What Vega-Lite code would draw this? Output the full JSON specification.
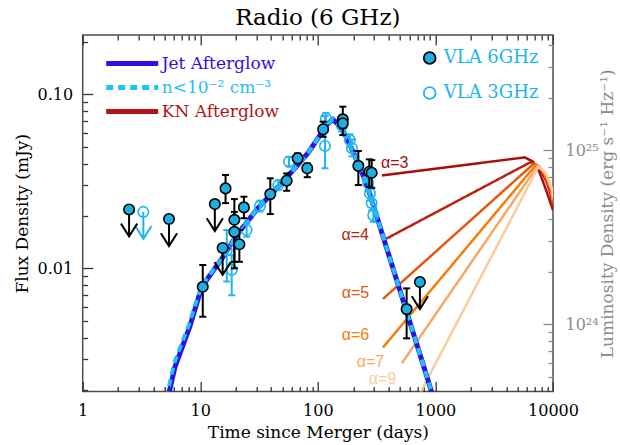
{
  "$schema": "https://vega.github.io/schema/vega-lite/v6.json",
  "width": 470.3,
  "height": 356.5,
  "autosize": "none",
  "padding": {"left": 82.7, "top": 35, "right": 67, "bottom": 53.5},
  "background": "white",
  "title": {"text": "Radio (6 GHz)", "font": "DejaVu Serif", "fontSize": 23, "fontWeight": "normal", "color": "black", "anchor": "middle", "frame": "group", "offset": 2},
  "config": {
    "font": "DejaVu Serif",
    "view": {"stroke": "#4d4d4d", "strokeWidth": 1.5},
    "axis": {"grid": false, "domain": false, "ticks": false, "labelFont": "DejaVu Serif", "labelFontSize": 16, "labelColor": "black", "titleFont": "DejaVu Serif", "titleFontSize": 17, "titleFontWeight": "normal", "titleColor": "black", "gridColor": "#333333", "gridWidth": 1.3, "gridOpacity": 1, "labelFlush": false, "labelOverlap": false, "labelBound": false}
  },
  "datasets": {
    "models": [
      {"model": "Jet Afterglow", "t": 5.3, "F": 0.0018},
      {"model": "Jet Afterglow", "t": 6.1, "F": 0.00272},
      {"model": "Jet Afterglow", "t": 8.13, "F": 0.00461},
      {"model": "Jet Afterglow", "t": 10.3, "F": 0.00784},
      {"model": "Jet Afterglow", "t": 15.3, "F": 0.0114},
      {"model": "Jet Afterglow", "t": 20.4, "F": 0.0155},
      {"model": "Jet Afterglow", "t": 30.8, "F": 0.0221},
      {"model": "Jet Afterglow", "t": 41.3, "F": 0.0272},
      {"model": "Jet Afterglow", "t": 61.8, "F": 0.0367},
      {"model": "Jet Afterglow", "t": 82.4, "F": 0.046},
      {"model": "Jet Afterglow", "t": 104, "F": 0.058},
      {"model": "Jet Afterglow", "t": 117, "F": 0.066},
      {"model": "Jet Afterglow", "t": 134, "F": 0.0718},
      {"model": "Jet Afterglow", "t": 157, "F": 0.0649},
      {"model": "Jet Afterglow", "t": 180, "F": 0.0546},
      {"model": "Jet Afterglow", "t": 207, "F": 0.0441},
      {"model": "Jet Afterglow", "t": 237, "F": 0.0357},
      {"model": "Jet Afterglow", "t": 267, "F": 0.0289},
      {"model": "Jet Afterglow", "t": 337, "F": 0.0174},
      {"model": "Jet Afterglow", "t": 453, "F": 0.0092},
      {"model": "Jet Afterglow", "t": 607, "F": 0.00489},
      {"model": "Jet Afterglow", "t": 815, "F": 0.00259},
      {"model": "Jet Afterglow", "t": 933, "F": 0.00192},
      {"model": "Jet Afterglow", "t": 975, "F": 0.00172},
      {"model": "n<10⁻² cm⁻³", "t": 5.15, "F": 0.0018},
      {"model": "n<10⁻² cm⁻³", "t": 6.0, "F": 0.00285},
      {"model": "n<10⁻² cm⁻³", "t": 8.0, "F": 0.00475},
      {"model": "n<10⁻² cm⁻³", "t": 10.2, "F": 0.0079},
      {"model": "n<10⁻² cm⁻³", "t": 15.3, "F": 0.0114},
      {"model": "n<10⁻² cm⁻³", "t": 20.4, "F": 0.0155},
      {"model": "n<10⁻² cm⁻³", "t": 30.8, "F": 0.0221},
      {"model": "n<10⁻² cm⁻³", "t": 41.3, "F": 0.0272},
      {"model": "n<10⁻² cm⁻³", "t": 61.8, "F": 0.0367},
      {"model": "n<10⁻² cm⁻³", "t": 82.4, "F": 0.046},
      {"model": "n<10⁻² cm⁻³", "t": 104, "F": 0.058},
      {"model": "n<10⁻² cm⁻³", "t": 117, "F": 0.066},
      {"model": "n<10⁻² cm⁻³", "t": 134, "F": 0.0718},
      {"model": "n<10⁻² cm⁻³", "t": 157, "F": 0.0649},
      {"model": "n<10⁻² cm⁻³", "t": 180, "F": 0.0546},
      {"model": "n<10⁻² cm⁻³", "t": 207, "F": 0.0441},
      {"model": "n<10⁻² cm⁻³", "t": 237, "F": 0.0357},
      {"model": "n<10⁻² cm⁻³", "t": 267, "F": 0.0289},
      {"model": "n<10⁻² cm⁻³", "t": 337, "F": 0.0174},
      {"model": "n<10⁻² cm⁻³", "t": 453, "F": 0.0092},
      {"model": "n<10⁻² cm⁻³", "t": 607, "F": 0.00489},
      {"model": "n<10⁻² cm⁻³", "t": 815, "F": 0.00259},
      {"model": "n<10⁻² cm⁻³", "t": 933, "F": 0.00192},
      {"model": "n<10⁻² cm⁻³", "t": 975, "F": 0.00172},
      {"model": "α=3", "t": 351, "F": 0.0342},
      {"model": "α=3", "t": 5740, "F": 0.0434},
      {"model": "α=3", "t": 6790, "F": 0.041},
      {"model": "α=3", "t": 7700, "F": 0.0355},
      {"model": "α=3", "t": 8600, "F": 0.029},
      {"model": "α=3", "t": 9300, "F": 0.025},
      {"model": "α=3", "t": 10000, "F": 0.0216},
      {"model": "α=4", "t": 382, "F": 0.0148},
      {"model": "α=4", "t": 6460, "F": 0.0408},
      {"model": "α=4", "t": 7200, "F": 0.0393},
      {"model": "α=4", "t": 8000, "F": 0.036},
      {"model": "α=4", "t": 8900, "F": 0.031},
      {"model": "α=4", "t": 9500, "F": 0.027},
      {"model": "α=4", "t": 10000, "F": 0.0228},
      {"model": "α=5", "t": 358, "F": 0.00667},
      {"model": "α=5", "t": 6880, "F": 0.04},
      {"model": "α=5", "t": 7500, "F": 0.0388},
      {"model": "α=5", "t": 8300, "F": 0.0355},
      {"model": "α=5", "t": 9100, "F": 0.031},
      {"model": "α=5", "t": 9600, "F": 0.028},
      {"model": "α=5", "t": 10000, "F": 0.0236},
      {"model": "α=6", "t": 358, "F": 0.00351},
      {"model": "α=6", "t": 7130, "F": 0.0392},
      {"model": "α=6", "t": 7700, "F": 0.0382},
      {"model": "α=6", "t": 8500, "F": 0.035},
      {"model": "α=6", "t": 9200, "F": 0.031},
      {"model": "α=6", "t": 9700, "F": 0.028},
      {"model": "α=6", "t": 10000, "F": 0.0244},
      {"model": "α=7", "t": 519, "F": 0.00285},
      {"model": "α=7", "t": 7370, "F": 0.0386},
      {"model": "α=7", "t": 7900, "F": 0.0377},
      {"model": "α=7", "t": 8700, "F": 0.0348},
      {"model": "α=7", "t": 9300, "F": 0.031},
      {"model": "α=7", "t": 9800, "F": 0.028},
      {"model": "α=7", "t": 10000, "F": 0.025},
      {"model": "α=9", "t": 735, "F": 0.0019},
      {"model": "α=9", "t": 7520, "F": 0.0383},
      {"model": "α=9", "t": 8000, "F": 0.0373},
      {"model": "α=9", "t": 8800, "F": 0.0345},
      {"model": "α=9", "t": 9400, "F": 0.031},
      {"model": "α=9", "t": 9850, "F": 0.0285},
      {"model": "α=9", "t": 10000, "F": 0.0256}
    ],
    "labels": [
      {"model": "α=3", "t": 451, "F": 0.0401},
      {"model": "α=4", "t": 207.6, "F": 0.0155},
      {"model": "α=5", "t": 209, "F": 0.00725},
      {"model": "α=6", "t": 209, "F": 0.00414},
      {"model": "α=7", "t": 280, "F": 0.00289},
      {"model": "α=9", "t": 354, "F": 0.0023}
    ],
    "obs": [
      {"band": "VLA 3GHz", "t": 3.28, "F": 0.0211, "ul": 1},
      {"band": "VLA 3GHz", "t": 16.8, "F": 0.0127, "lo": 0.0084, "hi": 0.0166},
      {"band": "VLA 3GHz", "t": 18.5, "F": 0.0098, "lo": 0.007, "hi": 0.0119},
      {"band": "VLA 3GHz", "t": 24.8, "F": 0.0166, "lo": 0.0152, "hi": 0.0181},
      {"band": "VLA 3GHz", "t": 32.2, "F": 0.0228, "lo": 0.0212, "hi": 0.0245},
      {"band": "VLA 3GHz", "t": 46.1, "F": 0.0301, "lo": 0.0283, "hi": 0.032},
      {"band": "VLA 3GHz", "t": 56.8, "F": 0.041, "lo": 0.0385, "hi": 0.0437},
      {"band": "VLA 3GHz", "t": 115, "F": 0.0505, "lo": 0.0376, "hi": 0.075},
      {"band": "VLA 3GHz", "t": 117, "F": 0.0727, "lo": 0.068, "hi": 0.078},
      {"band": "VLA 3GHz", "t": 160, "F": 0.066, "lo": 0.061, "hi": 0.071},
      {"band": "VLA 3GHz", "t": 187, "F": 0.0546, "lo": 0.05, "hi": 0.059},
      {"band": "VLA 3GHz", "t": 195, "F": 0.049, "lo": 0.044, "hi": 0.055},
      {"band": "VLA 3GHz", "t": 268, "F": 0.0308, "lo": 0.028, "hi": 0.034},
      {"band": "VLA 3GHz", "t": 277, "F": 0.027, "lo": 0.0245, "hi": 0.0295},
      {"band": "VLA 3GHz", "t": 287, "F": 0.0237, "lo": 0.0215, "hi": 0.026},
      {"band": "VLA 3GHz", "t": 296, "F": 0.0202, "lo": 0.0185, "hi": 0.022},
      {"band": "VLA 6GHz", "t": 2.48, "F": 0.0218, "ul": 1},
      {"band": "VLA 6GHz", "t": 5.42, "F": 0.0192, "ul": 1},
      {"band": "VLA 6GHz", "t": 13.3, "F": 0.0234, "ul": 1},
      {"band": "VLA 6GHz", "t": 15.5, "F": 0.0131, "ul": 1},
      {"band": "VLA 6GHz", "t": 738, "F": 0.00834, "ul": 1},
      {"band": "VLA 6GHz", "t": 10.5, "F": 0.00783, "lo": 0.00527, "hi": 0.01045},
      {"band": "VLA 6GHz", "t": 16.4, "F": 0.0288, "lo": 0.0237, "hi": 0.0344},
      {"band": "VLA 6GHz", "t": 19.5, "F": 0.019, "lo": 0.0109, "hi": 0.025},
      {"band": "VLA 6GHz", "t": 19.5, "F": 0.0162, "lo": 0.01, "hi": 0.0211},
      {"band": "VLA 6GHz", "t": 21.5, "F": 0.01375, "lo": 0.0109, "hi": 0.0166},
      {"band": "VLA 6GHz", "t": 23.5, "F": 0.0224, "lo": 0.0194, "hi": 0.0258},
      {"band": "VLA 6GHz", "t": 39.4, "F": 0.0267, "lo": 0.0205, "hi": 0.0329},
      {"band": "VLA 6GHz", "t": 54.3, "F": 0.0319, "lo": 0.0279, "hi": 0.0351},
      {"band": "VLA 6GHz", "t": 67.3, "F": 0.0429, "lo": 0.0401, "hi": 0.0458},
      {"band": "VLA 6GHz", "t": 81.3, "F": 0.0376, "lo": 0.0334, "hi": 0.0401},
      {"band": "VLA 6GHz", "t": 111, "F": 0.063, "lo": 0.057, "hi": 0.0696},
      {"band": "VLA 6GHz", "t": 163, "F": 0.0718, "lo": 0.064, "hi": 0.0849},
      {"band": "VLA 6GHz", "t": 163, "F": 0.0681, "lo": 0.0583, "hi": 0.076},
      {"band": "VLA 6GHz", "t": 221, "F": 0.0388, "lo": 0.0301, "hi": 0.0472},
      {"band": "VLA 6GHz", "t": 274, "F": 0.0359, "lo": 0.0294, "hi": 0.0423},
      {"band": "VLA 6GHz", "t": 287, "F": 0.0354, "lo": 0.029, "hi": 0.0419},
      {"band": "VLA 6GHz", "t": 569, "F": 0.00583, "lo": 0.00396, "hi": 0.00767}
    ],
    "lum": [
      {"t": 1, "L": 4.1e23},
      {"t": 10000, "L": 4.586e25}
    ]
  },
  "layer": [
    {
      "encoding": {
        "x": {"field": "t", "type": "quantitative", "scale": {"type": "log", "domain": [1, 10000], "nice": false},
          "axis": {"orient": "bottom", "values": [1,2,3,4,5,6,7,8,9,10,20,30,40,50,60,70,80,90,100,200,300,400,500,600,700,800,900,1000,2000,3000,4000,5000,6000,7000,8000,9000,10000],
            "labelExpr": "datum.value == 1 ? '1' : datum.value == 10 ? '10' : datum.value == 100 ? '100' : datum.value == 1000 ? '1000' : datum.value == 10000 ? '10000' : ''",
            "grid": true,
            "gridDash": {"condition": {"test": "datum.value == 1 || datum.value == 10 || datum.value == 100 || datum.value == 1000 || datum.value == 10000", "value": [10, 336.5, 10]}, "value": [5, 346.5, 5]},
            "labelPadding": 11, "title": "Time since Merger (days)", "titlePadding": 6}},
        "y": {"field": "F", "type": "quantitative", "scale": {"type": "log", "domain": [0.00196, 0.2192], "nice": false},
          "axis": {"orient": "left", "values": [0.002,0.003,0.004,0.005,0.006,0.007,0.008,0.009,0.01,0.02,0.03,0.04,0.05,0.06,0.07,0.08,0.09,0.1,0.2],
            "labelExpr": "datum.value == 0.1 ? '0.10' : datum.value == 0.01 ? '0.01' : ''",
            "grid": true,
            "gridDash": {"condition": {"test": "datum.value == 0.01 || datum.value == 0.1", "value": [10, 470]}, "value": [5, 470]},
            "labelPadding": 10, "title": "Flux Density (mJy)", "titlePadding": 6}}
      },
      "layer": [
        {
          "data": {"name": "models"},
          "transform": [{"filter": "indexof(datum.model, 'α') === 0"}],
          "mark": {"type": "line", "strokeWidth": 2.5, "clip": true},
          "encoding": {
            "color": {"field": "model", "type": "nominal",
              "scale": {"domain": ["Jet Afterglow", "n<10⁻² cm⁻³", "KN Afterglow", "α=3", "α=4", "α=5", "α=6", "α=7", "α=9"],
                "range": ["#2a12e6", "#1ec3f2", "#b01515", "#a80d0d", "#bb200c", "#e45812", "#f47d0c", "#f8a862", "#fccb9c"]},
              "legend": {"values": ["Jet Afterglow", "n<10⁻² cm⁻³", "KN Afterglow"], "orient": "top-left", "offset": 20, "title": null, "padding": 0,
                "symbolType": "M-1,0L9.4,0", "symbolSize": 100, "symbolStrokeWidth": 5, "labelFont": "DejaVu Serif", "labelFontSize": 17,
                "labelOffset": 42, "rowPadding": 3,
                "encode": {"labels": {"update": {"fill": {"signal": "datum.value === 'Jet Afterglow' ? '#2a12e6' : (datum.value === 'KN Afterglow' ? '#b01515' : '#1ec3f2')"}}}}}},
            "strokeDash": {"field": "model", "type": "nominal",
              "scale": {"domain": ["Jet Afterglow", "n<10⁻² cm⁻³", "KN Afterglow", "α=3", "α=4", "α=5", "α=6", "α=7", "α=9"],
                "range": [[1, 0], [7, 5], [1, 0], [1, 0], [1, 0], [1, 0], [1, 0], [1, 0], [1, 0]]}}
          }
        },
        {
          "data": {"name": "models"},
          "transform": [{"filter": "datum.model === 'Jet Afterglow'"}],
          "mark": {"type": "line", "strokeWidth": 5, "clip": true},
          "encoding": {
            "color": {"field": "model", "type": "nominal"},
            "strokeDash": {"field": "model", "type": "nominal"}
          }
        },
        {
          "data": {"name": "models"},
          "transform": [{"filter": "indexof(datum.model, 'n<') === 0"}],
          "mark": {"type": "line", "strokeWidth": 4, "clip": true, "strokeCap": "butt"},
          "encoding": {
            "color": {"field": "model", "type": "nominal"},
            "strokeDash": {"field": "model", "type": "nominal"}
          }
        },
        {
          "data": {"name": "labels"},
          "mark": {"type": "text", "font": "Liberation Sans", "fontSize": 16, "align": "center", "baseline": "middle"},
          "encoding": {
            "text": {"field": "model", "type": "nominal"},
            "color": {"field": "model", "type": "nominal"}
          }
        },
        {
          "data": {"name": "obs"},
          "transform": [{"filter": "datum.band === 'VLA 3GHz' && isValid(datum.lo)"}],
          "mark": {"type": "rule", "strokeWidth": 2},
          "encoding": {
            "y": {"field": "lo", "type": "quantitative", "scale": {"type": "log", "domain": [0.00196, 0.2192], "nice": false}},
            "y2": {"field": "hi"},
            "stroke": {"field": "band", "type": "nominal", "scale": {"domain": ["VLA 6GHz", "VLA 3GHz"], "range": ["#000000", "#1fb6ee"]}}
          }
        },
        {
          "data": {"name": "obs"},
          "transform": [{"filter": "datum.band === 'VLA 3GHz' && isValid(datum.lo)"}],
          "mark": {"type": "point", "shape": "M-1,0L1,0", "size": 49, "strokeWidth": 2, "opacity": 1, "filled": false},
          "encoding": {
            "y": {"field": "hi", "type": "quantitative", "scale": {"type": "log", "domain": [0.00196, 0.2192], "nice": false}},
            "stroke": {"field": "band", "type": "nominal"}
          }
        },
        {
          "data": {"name": "obs"},
          "transform": [{"filter": "datum.band === 'VLA 3GHz' && isValid(datum.lo)"}],
          "mark": {"type": "point", "shape": "M-1,0L1,0", "size": 49, "strokeWidth": 2, "opacity": 1, "filled": false},
          "encoding": {
            "y": {"field": "lo", "type": "quantitative", "scale": {"type": "log", "domain": [0.00196, 0.2192], "nice": false}},
            "stroke": {"field": "band", "type": "nominal"}
          }
        },
        {
          "data": {"name": "obs"},
          "transform": [{"filter": "datum.band === 'VLA 3GHz' && datum.ul === 1"}],
          "mark": {"type": "point", "shape": "M0,0L0,2M-0.6,1.05L0,2L0.6,1.05", "size": 729, "strokeWidth": 2, "opacity": 1, "filled": false},
          "encoding": {"stroke": {"field": "band", "type": "nominal"}}
        },
        {
          "data": {"name": "obs"},
          "transform": [{"filter": "datum.band === 'VLA 3GHz'"}],
          "mark": {"type": "point", "shape": "circle", "size": 110, "strokeWidth": 1.6, "opacity": 1, "filled": true},
          "encoding": {
            "fill": {"field": "band", "type": "nominal", "scale": {"domain": ["VLA 6GHz", "VLA 3GHz"], "range": ["#1eaee2", "transparent"]},
              "legend": {"orient": "top-right", "offset": 14, "title": null, "padding": 0, "symbolType": "circle", "symbolSize": 140, "symbolStrokeWidth": 1.8,
                "labelFont": "DejaVu Serif", "labelFontSize": 18, "labelColor": "#1eb4ec", "labelOffset": 5, "rowPadding": 15}},
            "stroke": {"field": "band", "type": "nominal"}
          }
        },
        {
          "data": {"name": "obs"},
          "transform": [{"filter": "datum.band === 'VLA 6GHz' && isValid(datum.lo)"}],
          "mark": {"type": "rule", "strokeWidth": 2},
          "encoding": {
            "y": {"field": "lo", "type": "quantitative", "scale": {"type": "log", "domain": [0.00196, 0.2192], "nice": false}},
            "y2": {"field": "hi"},
            "stroke": {"field": "band", "type": "nominal"}
          }
        },
        {
          "data": {"name": "obs"},
          "transform": [{"filter": "datum.band === 'VLA 6GHz' && isValid(datum.lo)"}],
          "mark": {"type": "point", "shape": "M-1,0L1,0", "size": 49, "strokeWidth": 2, "opacity": 1, "filled": false},
          "encoding": {
            "y": {"field": "hi", "type": "quantitative", "scale": {"type": "log", "domain": [0.00196, 0.2192], "nice": false}},
            "stroke": {"field": "band", "type": "nominal"}
          }
        },
        {
          "data": {"name": "obs"},
          "transform": [{"filter": "datum.band === 'VLA 6GHz' && isValid(datum.lo)"}],
          "mark": {"type": "point", "shape": "M-1,0L1,0", "size": 49, "strokeWidth": 2, "opacity": 1, "filled": false},
          "encoding": {
            "y": {"field": "lo", "type": "quantitative", "scale": {"type": "log", "domain": [0.00196, 0.2192], "nice": false}},
            "stroke": {"field": "band", "type": "nominal"}
          }
        },
        {
          "data": {"name": "obs"},
          "transform": [{"filter": "datum.band === 'VLA 6GHz' && datum.ul === 1"}],
          "mark": {"type": "point", "shape": "M0,0L0,2M-0.6,1.05L0,2L0.6,1.05", "size": 729, "strokeWidth": 2, "opacity": 1, "filled": false},
          "encoding": {"stroke": {"field": "band", "type": "nominal"}}
        },
        {
          "data": {"name": "obs"},
          "transform": [{"filter": "datum.band === 'VLA 6GHz'"}],
          "mark": {"type": "point", "shape": "circle", "size": 110, "strokeWidth": 1.6, "opacity": 1, "filled": true},
          "encoding": {
            "fill": {"field": "band", "type": "nominal"},
            "stroke": {"field": "band", "type": "nominal"}
          }
        }
      ]
    },
    {
      "data": {"name": "lum"},
      "mark": {"type": "point", "opacity": 0},
      "encoding": {
        "x": {"field": "t", "type": "quantitative", "scale": {"type": "log", "domain": [1, 10000], "nice": false},
          "axis": {"orient": "top", "labels": false, "title": null, "values": [1, 10000]}},
        "y": {"field": "L", "type": "quantitative", "scale": {"type": "log", "domain": [4.1e23, 4.586e25], "nice": false},
          "axis": {"orient": "right", "values": [5e23,6e23,7e23,8e23,9e23,1e24,2e24,3e24,4e24,5e24,6e24,7e24,8e24,9e24,1e25,2e25,3e25,4e25],
            "labelExpr": "datum.value == 1e24 ? '10²⁴' : datum.value == 1e25 ? '10²⁵' : ''",
            "grid": true, "gridColor": "#8c8c8c",
            "gridDash": {"condition": {"test": "datum.value == 1e24 || datum.value == 1e25", "value": [10, 470]}, "value": [5, 470]},
            "labelPadding": 12, "labelColor": "#8c8c8c",
            "title": "Luminosity Density (erg s⁻¹ Hz⁻¹)", "titleColor": "#8c8c8c", "titleAngle": 270, "titlePadding": 18}}
      }
    }
  ],
  "resolve": {"scale": {"y": "independent"}, "axis": {"x": "independent", "y": "independent"}}
}
